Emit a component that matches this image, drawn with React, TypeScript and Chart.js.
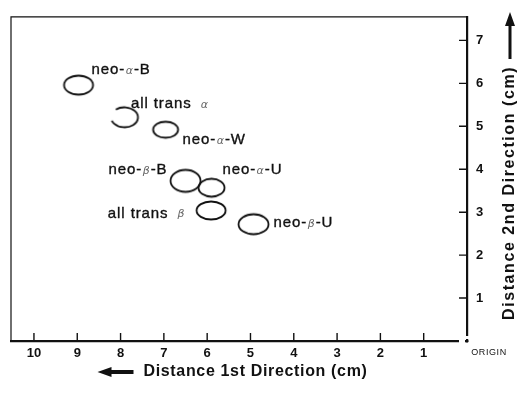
import React, { useEffect, useRef } from 'react';
import { Chart, registerables } from 'chart.js';

Chart.register(...registerables);

// ---------- data ----------
const spotNames: string[] = ['neo-α-B', 'all trans α', 'neo-α-W', 'neo-β-B', 'neo-α-U', 'all trans β', 'neo-β-U'];
const dist1st: number[] = [8.97, 7.91, 6.96, 6.5, 5.9, 5.91, 4.93];
const dist2nd: number[] = [5.96, 5.21, 4.92, 3.73, 3.57, 3.04, 2.72];
const xTickValues: number[] = [0, 1, 2, 3, 4, 5, 6, 7, 8, 9, 10];
const yTickValues: number[] = [1, 2, 3, 4, 5, 6, 7];
const xTitle = 'Distance 1st Direction (cm)';
const yTitle = 'Distance 2nd Direction (cm)';
const originLabel = 'ORIGIN';

// ---------- styles ----------
const spotRx: number[] = [14.5, 13.5, 12.5, 15, 13, 14.5, 15];
const spotRy: number[] = [9.5, 10, 8, 11, 9, 9, 10];
const spotArc: [number, number][] = [
  [0, 360], [-130, 160], [0, 360], [0, 360], [0, 360], [0, 360], [0, 360],
];
const labelDx: number[] = [13, 6.5, 17, -18, 11, -25.5, 20];
const labelDy: number[] = [-15, -13, 10, -11, -18, 3, -1];
const labelAlign: ('left' | 'right')[] = ['left', 'left', 'left', 'right', 'left', 'right', 'left'];

const INK = '#111';
const SANS = '"Liberation Sans", Arial, Helvetica, sans-serif';

function makeSpot(rx: number, ry: number, a0: number, a1: number): HTMLCanvasElement {
  const c = document.createElement('canvas');
  c.width = Math.ceil(rx * 2 + 5);
  c.height = Math.ceil(ry * 2 + 5);
  const g = c.getContext('2d')!;
  g.strokeStyle = INK;
  g.lineWidth = 1.8;
  g.beginPath();
  g.ellipse(c.width / 2, c.height / 2, rx, ry, 0, (a0 * Math.PI) / 180, (a1 * Math.PI) / 180);
  g.stroke();
  return c;
}

function splitGreek(s: string): { t: string; greek: boolean }[] {
  const out: { t: string; greek: boolean }[] = [];
  for (const ch of s) {
    const g = /[α-ω]/.test(ch);
    const last = out[out.length - 1];
    if (last && last.greek === g) last.t += ch;
    else out.push({ t: ch, greek: g });
  }
  return out;
}

function fitText(ctx: CanvasRenderingContext2D, text: string, target: number) {
  (ctx as any).letterSpacing = '0px';
  const w = ctx.measureText(text).width;
  const n = Array.from(text).length;
  const sp = Math.max(0, (target - w) / n);
  (ctx as any).letterSpacing = `${sp}px`;
}

const decorPlugin = {
  id: 'decor',
  afterDraw(chart: any) {
    const ctx: CanvasRenderingContext2D = chart.ctx;
    const { left, right, top, bottom } = chart.chartArea;
    const xs = chart.scales.x;
    const ys = chart.scales.y;
    ctx.save();

    // thin frame top & left
    ctx.strokeStyle = INK;
    ctx.lineWidth = 1.2;
    ctx.beginPath();
    ctx.moveTo(left, bottom);
    ctx.lineTo(left, top);
    ctx.lineTo(right, top);
    ctx.stroke();

    // gap near origin + dot
    const ox = xs.getPixelForValue(0);
    const oy = ys.getPixelForValue(0);
    ctx.fillStyle = '#fff';
    ctx.fillRect(ox - 8, oy - 2, 6, 4);
    ctx.fillRect(ox - 2, oy - 5, 4, 3);
    ctx.fillStyle = INK;
    ctx.beginPath();
    ctx.arc(ox, oy, 1.6, 0, Math.PI * 2);
    ctx.fill();

    // inward tick marks
    ctx.lineWidth = 1.4;
    ctx.beginPath();
    for (const v of xTickValues) {
      if (v === 0) continue;
      const px = xs.getPixelForValue(v);
      ctx.moveTo(px, bottom);
      ctx.lineTo(px, bottom - 8);
    }
    for (const v of yTickValues) {
      const py = ys.getPixelForValue(v);
      ctx.moveTo(right, py);
      ctx.lineTo(right - 8, py);
    }
    ctx.stroke();

    // ORIGIN label
    ctx.font = `9px ${SANS}`;
    ctx.textAlign = 'center';
    ctx.textBaseline = 'middle';
    (ctx as any).letterSpacing = '0.6px';
    ctx.fillText(originLabel, ox + 22, bottom + 12);

    // x title + left arrow
    ctx.font = `bold 16px ${SANS}`;
    fitText(ctx, xTitle, 224);
    const tw = ctx.measureText(xTitle).width;
    const tcx = xs.left + (xs.right - xs.left) / 2 + 16.5;
    const ty = bottom + 31;
    ctx.textAlign = 'center';
    ctx.fillText(xTitle, tcx, ty);
    const aRight = tcx - tw / 2 - 10;
    const aLeft = aRight - 36;
    ctx.beginPath();
    ctx.moveTo(aLeft, ty);
    ctx.lineTo(aLeft + 14, ty - 5);
    ctx.lineTo(aLeft + 14, ty - 2);
    ctx.lineTo(aRight, ty - 2);
    ctx.lineTo(aRight, ty + 2);
    ctx.lineTo(aLeft + 14, ty + 2);
    ctx.lineTo(aLeft + 14, ty + 5);
    ctx.closePath();
    ctx.fill();

    // y title rotated, reading bottom-to-top, with up arrow
    ctx.save();
    ctx.translate(right + 43, (top + bottom) / 2 + 14);
    ctx.rotate(-Math.PI / 2);
    ctx.font = `bold 16px ${SANS}`;
    fitText(ctx, yTitle, 254);
    ctx.textAlign = 'center';
    ctx.textBaseline = 'middle';
    const yw = ctx.measureText(yTitle).width;
    ctx.fillText(yTitle, 0, 0);
    const bl = yw / 2 + 7;
    const br = bl + 47;
    ctx.beginPath();
    ctx.moveTo(br, 0);
    ctx.lineTo(br - 14, -5);
    ctx.lineTo(br - 14, -1.5);
    ctx.lineTo(bl, -1.5);
    ctx.lineTo(bl, 1.5);
    ctx.lineTo(br - 14, 1.5);
    ctx.lineTo(br - 14, 5);
    ctx.closePath();
    ctx.fill();
    ctx.restore();

    // spot labels
    const meta = chart.getDatasetMeta(0);
    ctx.textBaseline = 'middle';
    ctx.textAlign = 'left';
    const fontOf = (g: boolean) => (g ? `italic 11px "DejaVu Sans", ${SANS}` : `15px ${SANS}`);
    const spOf = (g: boolean) => (g ? '0px' : '0.9px');
    meta.data.forEach((pt: any, i: number) => {
      const parts = splitGreek(spotNames[i]);
      const pads = parts.map((p, k) => (p.greek ? (k > 0 && parts[k - 1].t.endsWith(' ') ? 4 : 0.5) : 0));
      let total = 0;
      parts.forEach((p, k) => {
        ctx.font = fontOf(p.greek);
        (ctx as any).letterSpacing = spOf(p.greek);
        total += pads[k] + ctx.measureText(p.t).width + (p.greek ? 1 : 0);
      });
      let x = pt.x + labelDx[i];
      if (labelAlign[i] === 'right') x -= total;
      const y = pt.y + labelDy[i];
      parts.forEach((p, k) => {
        ctx.font = fontOf(p.greek);
        (ctx as any).letterSpacing = spOf(p.greek);
        x += pads[k];
        if (p.greek) {
          ctx.fillStyle = '#666';
          ctx.fillText(p.t, x, y + 1);
        } else {
          ctx.fillStyle = INK;
          ctx.strokeStyle = INK;
          ctx.lineWidth = 0.35;
          ctx.fillText(p.t, x, y);
          ctx.strokeText(p.t, x, y);
        }
        x += ctx.measureText(p.t).width + (p.greek ? 1 : 0);
      });
    });
    (ctx as any).letterSpacing = '0px';
    ctx.restore();
  },
};

export default function App() {
  const ref = useRef<HTMLCanvasElement | null>(null);
  useEffect(() => {
    document.body.style.margin = '0';
    const spots = spotNames.map((_, i) => makeSpot(spotRx[i], spotRy[i], spotArc[i][0], spotArc[i][1]));
    const chart = new Chart(ref.current!, {
      type: 'scatter',
      data: {
        datasets: [
          {
            label: 'spots',
            data: dist1st.map((x, i) => ({ x, y: dist2nd[i] })),
            pointStyle: spots as any,
            pointRadius: 10,
            pointHoverRadius: 10,
            borderColor: INK,
            backgroundColor: 'transparent',
          },
        ],
      },
      options: {
        responsive: false,
        animation: false,
        events: [],
        layout: { padding: { left: 10, top: 13, right: 0, bottom: 0 } },
        plugins: { legend: { display: false }, tooltip: { enabled: false } },
        scales: {
          x: {
            type: 'linear',
            reverse: true,
            min: 0,
            max: 10.53,
            afterBuildTicks: (s: any) => {
              s.ticks = xTickValues.map((v) => ({ value: v }));
            },
            afterFit: (s: any) => {
              s.height = 54;
            },
            grid: { display: false, drawTicks: false },
            border: { display: true, color: INK, width: 2.2 },
            ticks: {
              color: INK,
              font: { family: SANS, size: 13, weight: 'bold' },
              padding: 5,
              maxRotation: 0,
              autoSkip: false,
              callback: (v: any) => (v === 0 ? '' : String(v)),
            },
          },
          y: {
            type: 'linear',
            position: 'right',
            min: 0,
            max: 7.55,
            afterBuildTicks: (s: any) => {
              s.ticks = yTickValues.map((v) => ({ value: v }));
            },
            afterFit: (s: any) => {
              s.width = 53;
            },
            grid: { display: false, drawTicks: false },
            border: { display: true, color: INK, width: 2.2 },
            ticks: {
              color: INK,
              font: { family: SANS, size: 13, weight: 'bold' },
              padding: 9,
              autoSkip: false,
            },
          },
        },
      },
      plugins: [decorPlugin],
    });
    return () => chart.destroy();
  }, []);
  return <canvas ref={ref} width={520} height={395} style={{ display: 'block' }} />;
}
